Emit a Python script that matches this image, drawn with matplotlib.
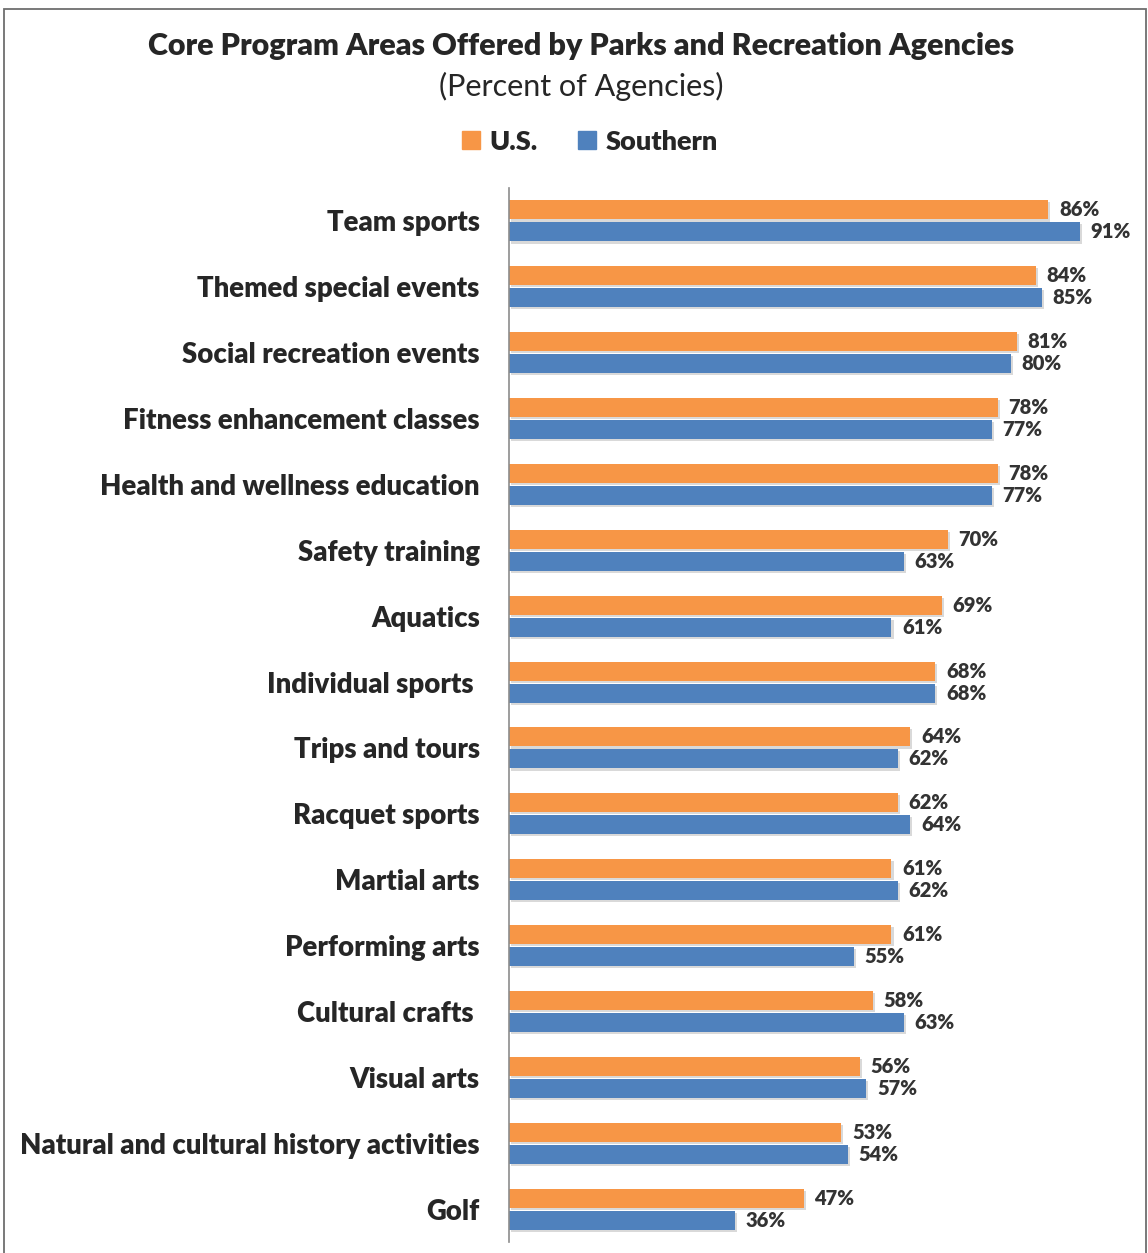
import matplotlib.pyplot as plt
from matplotlib.patches import Rectangle, Patch
import matplotlib.patheffects as pe
import numpy as np

categories = ["Team sports", "Themed special events", "Social recreation events",
              "Fitness enhancement classes", "Health and wellness education",
              "Safety training", "Aquatics", "Individual sports ", "Trips and tours",
              "Racquet sports", "Martial arts", "Performing arts", "Cultural crafts ",
              "Visual arts", "Natural and cultural history activities", "Golf"]
us_values = [86, 84, 81, 78, 78, 70, 69, 68, 64, 62, 61, 61, 58, 56, 53, 47]
southern_values = [91, 85, 80, 77, 77, 63, 61, 68, 62, 64, 62, 55, 63, 57, 54, 36]

ORANGE = "#F79646"
BLUE = "#4F81BD"
TEXT = "#262626"

plt.rcParams['font.family'] = ['Lato', 'DejaVu Sans']

fig = plt.figure(figsize=(11.48, 12.53), dpi=100)
ax = fig.add_axes([509 / 1148, 11 / 1253, 627 / 1148, 1054 / 1253])

y = np.arange(len(categories))
h = 0.29
off = 0.167
shadow = [pe.SimplePatchShadow(offset=(1.5, -1.5), shadow_rgbFace="#000000", alpha=0.15), pe.Normal()]
ax.barh(y - off, us_values, height=h, color=ORANGE, path_effects=shadow)
ax.barh(y + off, southern_values, height=h, color=BLUE, path_effects=shadow)

for yy, v in zip(y, us_values):
    ax.text(v + 1.7, yy - off, f"{v}%", va="center", ha="left", fontsize=14.5,
            fontweight="heavy", color="#333333")
for yy, v in zip(y, southern_values):
    ax.text(v + 1.7, yy + off, f"{v}%", va="center", ha="left", fontsize=14.5,
            fontweight="heavy", color="#333333")

ax.set_xlim(0, 100)
ax.set_ylim(len(categories) - 0.5, -0.5)
ax.set_yticks(y)
ax.set_yticklabels(categories, fontsize=19.8, fontweight="heavy", color=TEXT)
ax.tick_params(axis="y", length=0, pad=21)
ax.set_xticks([])
for s in ["top", "right", "bottom"]:
    ax.spines[s].set_visible(False)
ax.spines["left"].set_color("#8C8C8C")
ax.spines["left"].set_linewidth(1.2)

fig.text(0.506, 0.963, "Core Program Areas Offered by Parks and Recreation Agencies",
         ha="center", va="center", fontsize=22, fontweight="heavy", color=TEXT)
fig.text(0.506, 0.931, "(Percent of Agencies)", ha="center", va="center",
         fontsize=22, color=TEXT)

handles = [Patch(color=ORANGE, label="U.S."), Patch(color=BLUE, label="Southern")]
leg = fig.legend(handles=handles, loc="center", bbox_to_anchor=(0.514, 0.887), ncol=2,
                 frameon=False, handlelength=0.65, handleheight=0.65, handletextpad=0.35,
                 columnspacing=1.5, prop={"size": 19.5, "weight": "heavy"})
for t in leg.get_texts():
    t.set_color(TEXT)

fig.patches.append(Rectangle((4 / 1148, -0.01), 1142 / 1148, 1 - 9 / 1253 + 0.01,
                             transform=fig.transFigure, fill=False,
                             edgecolor="#6E6E6E", linewidth=1.3))

fig.savefig("out.png", dpi=100)
